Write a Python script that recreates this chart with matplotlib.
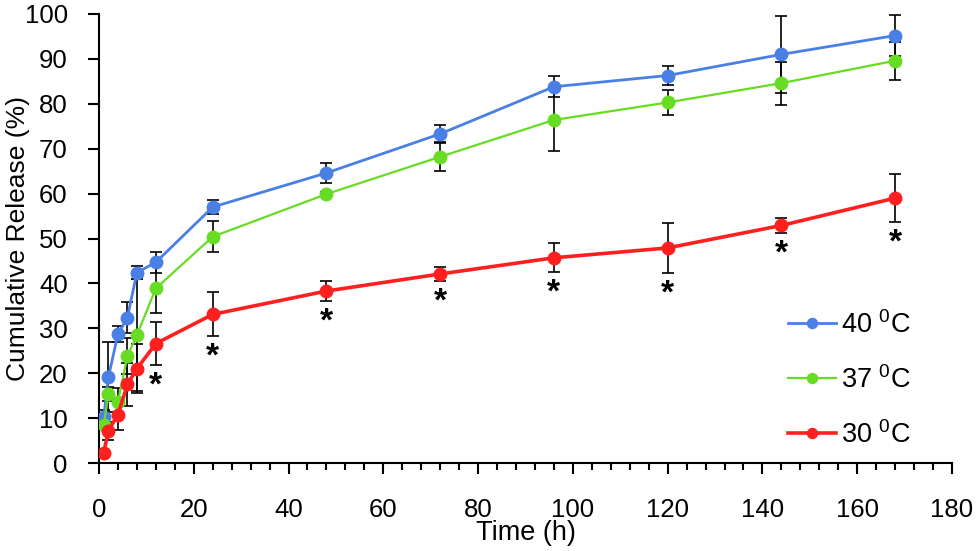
import numpy as np
import matplotlib
matplotlib.use("Agg")
import matplotlib.pyplot as plt
from matplotlib.ticker import MultipleLocator

plt.rcParams['font.family'] = ['Liberation Sans', 'DejaVu Sans']
plt.rcParams['mathtext.fontset'] = 'custom'
plt.rcParams['mathtext.rm'] = 'Liberation Sans'
plt.rcParams['mathtext.it'] = 'Liberation Sans'

#------------------------------------data-----------------------------------------
hours = [1, 2, 4, 6, 8, 12, 24, 48, 72, 96, 120, 144, 168]

rel_40 = [10.2, 19.2, 28.7, 32.4, 42.4, 44.7, 57.0, 64.6, 73.3, 83.8, 86.3, 91.0, 95.2]
err_40 = [1.5, 7.8, 1.8, 3.5, 1.5, 2.4, 1.5, 2.2, 2.0, 2.3, 2.2, 8.6, 4.5]

rel_37 = [8.4, 15.4, 13.6, 23.8, 28.5, 38.9, 50.4, 59.9, 68.2, 76.4, 80.3, 84.6, 89.6]
err_37 = [1.0, 1.5, 3.0, 4.0, 12.5, 5.5, 3.5, 0.5, 3.2, 7.0, 2.8, 4.8, 4.2]

rel_30 = [2.3, 7.2, 10.8, 17.5, 21.0, 26.6, 33.1, 38.3, 42.1, 45.7, 47.9, 52.9, 59.0]
err_30 = [0.5, 2.0, 3.5, 4.7, 5.5, 4.8, 4.9, 2.3, 1.5, 3.2, 5.5, 1.7, 5.3]

# time points marked significant (*)
sig_hours = [12, 24, 48, 72, 96, 120, 144, 168]

labels = [r'40 $^{0}$C', r'37 $^{0}$C', r'30 $^{0}$C']
colors = ['#4a7fe6', '#66dd22', '#ff1f1f']

#------------------------------------plot-----------------------------------------
fig = plt.figure(figsize=(9.8, 5.51), dpi=100)
ax = fig.add_axes([0.101, 0.1597, 0.8704, 0.8149])

series = [(rel_40, err_40, 2.0), (rel_37, err_37, 1.6), (rel_30, err_30, 2.6)]
handles = []
for (vals, errs, lw), lab, col in zip(series, labels, colors):
    c = ax.errorbar(hours, vals, yerr=errs, color=col, lw=lw, marker='o', ms=9,
                    ecolor='black', elinewidth=1.2, capsize=4.5, capthick=1.2,
                    label=lab, zorder=3)
    handles.append(c.lines[0])

# asterisks under the 30 C error bars
for h in sig_hours:
    i = hours.index(h)
    ax.annotate('*', xy=(h, rel_30[i] - err_30[i]), xytext=(0, -4),
                textcoords='offset points', ha='center', va='top',
                fontsize=24, fontweight='bold')

ax.set_xlim(0, 180)
ax.set_ylim(0, 100)
ax.xaxis.set_major_locator(MultipleLocator(20))
ax.xaxis.set_minor_locator(MultipleLocator(4))
ax.yaxis.set_major_locator(MultipleLocator(10))

ax.spines['top'].set_visible(False)
ax.spines['right'].set_visible(False)
for s in ['left', 'bottom']:
    ax.spines[s].set_linewidth(1.5)

ax.tick_params(axis='both', which='major', direction='out', length=8, width=1.5,
               labelsize=18.5, pad=14.5)
ax.tick_params(axis='x', which='major', pad=17)
ax.tick_params(axis='x', which='minor', direction='out', length=5, width=1.5)

ax.set_xlabel('Time (h)', fontsize=19.5)
ax.xaxis.set_label_coords(0.5, -0.127)
ax.set_ylabel('Cumulative Release (%)', fontsize=19)
ax.yaxis.set_label_coords(-0.081, 0.5)

leg = ax.legend(handles=handles, labels=labels, loc='center left',
                bbox_to_anchor=(0.808, 0.185), borderaxespad=0, borderpad=0,
                frameon=False, fontsize=19.5, labelspacing=1.0,
                handlelength=1.75, handletextpad=0.2, markerscale=0.8)

plt.savefig('out.png', dpi=100)
